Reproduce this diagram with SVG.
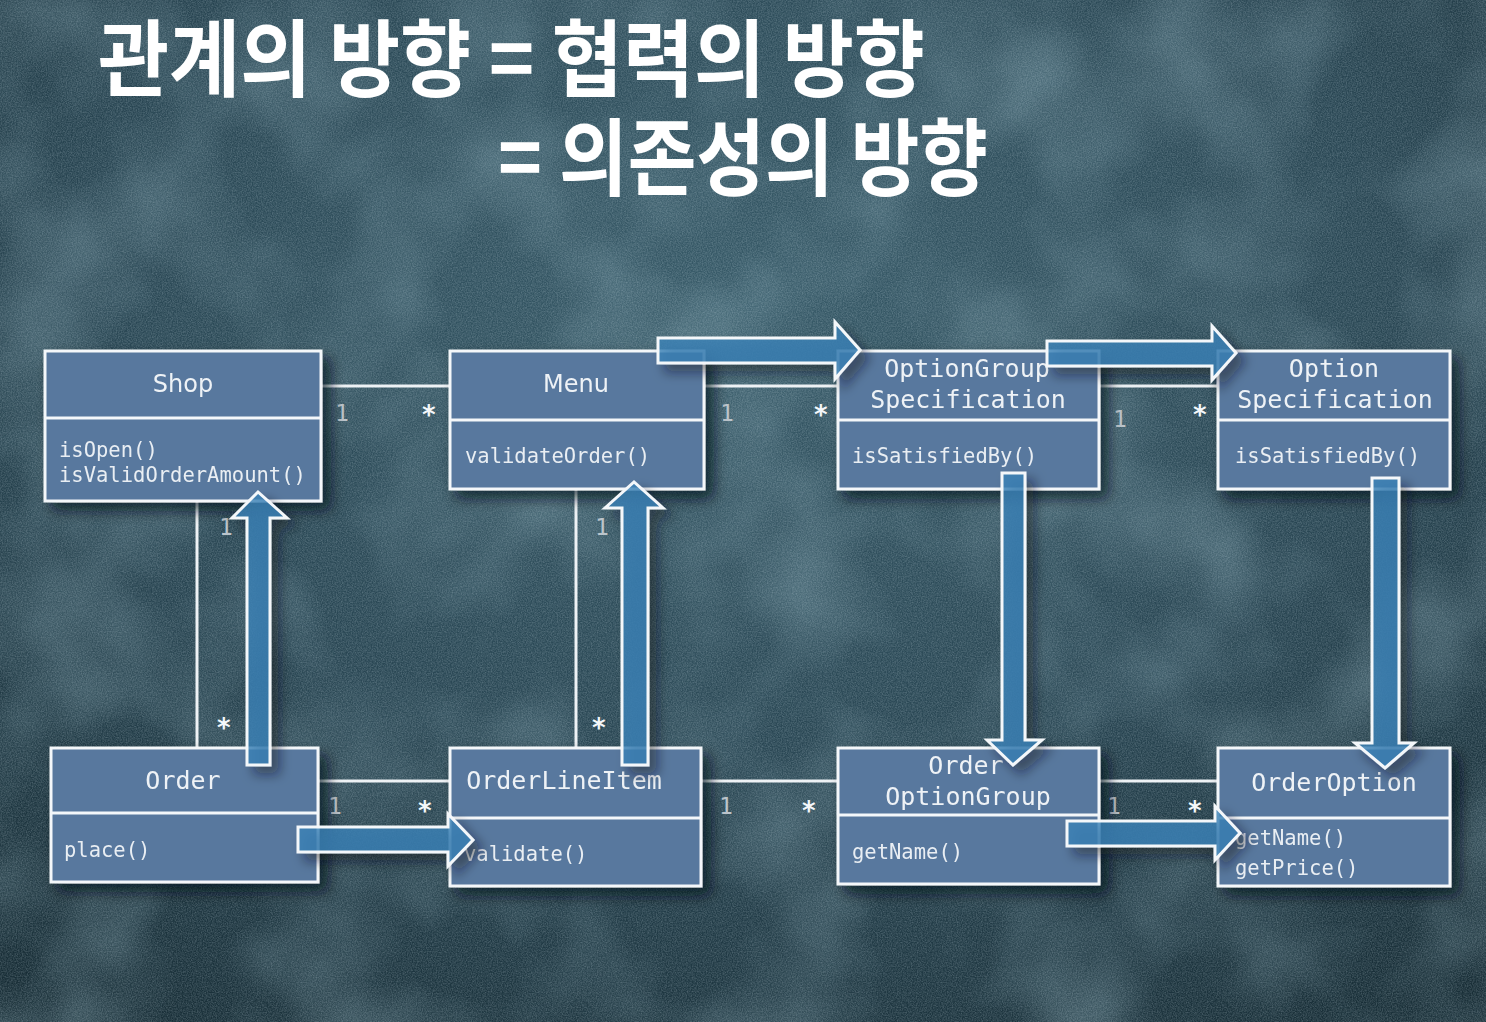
<svg xmlns="http://www.w3.org/2000/svg" width="1486" height="1022" viewBox="0 0 1486 1022">
<defs>
<radialGradient id="bg" cx="0.5" cy="0.3" r="0.9">
<stop offset="0" stop-color="#385b69"/>
<stop offset="0.5" stop-color="#294653"/>
<stop offset="1" stop-color="#142830"/>
</radialGradient>
<filter id="noise" x="0" y="0" width="100%" height="100%">
<feTurbulence type="fractalNoise" baseFrequency="0.8" numOctaves="2" seed="3"/>
<feColorMatrix type="matrix" values="0 0 0 0 0.7  0 0 0 0 0.82  0 0 0 0 0.88  0.4 0 0 0 -0.12"/>
</filter>
<filter id="blotch" x="0" y="0" width="100%" height="100%">
<feTurbulence type="fractalNoise" baseFrequency="0.007" numOctaves="3" seed="7"/>
<feColorMatrix type="matrix" values="0 0 0 0 0.3  0 0 0 0 0.47  0 0 0 0 0.54  0.7 0 0 0 -0.28"/>
</filter>
<filter id="shadow" x="-20%" y="-20%" width="150%" height="150%">
<feDropShadow dx="8" dy="8" stdDeviation="7" flood-color="#06141b" flood-opacity="0.7"/>
</filter>
<filter id="ashadow" x="-30%" y="-30%" width="170%" height="170%">
<feDropShadow dx="8" dy="8" stdDeviation="6" flood-color="#08161d" flood-opacity="0.55"/>
</filter>
<style>
.box{fill:#58789e;stroke:#f4f7fa;stroke-width:3}
.div{stroke:#f4f7fa;stroke-width:3}
.pname{font-family:"DejaVu Sans",sans-serif;font-size:24px;fill:#eef2f6;text-anchor:middle}
.mname{font-family:"DejaVu Sans Mono",monospace;font-size:25px;fill:#eef2f6;text-anchor:middle}
.meth{font-family:"DejaVu Sans Mono",monospace;font-size:20.5px;fill:#e9eef3}
.line{stroke:#eef2f5;stroke-width:3;fill:none}
.one{font-family:"DejaVu Sans Mono",monospace;font-size:23px;fill:#bcc5cc}
.star{font-family:"DejaVu Sans Mono",monospace;font-size:26px;font-weight:bold;fill:#f4f7fa}
.arrow{fill:#3b82b8;fill-opacity:0.8;stroke:#f4f7fa;stroke-width:3;stroke-linejoin:miter}
.title{font-family:"Noto Sans CJK KR","Noto Sans",sans-serif;font-weight:700;font-size:84px;fill:#ffffff}
</style>
</defs>

<rect x="0" y="0" width="1486" height="1022" fill="url(#bg)"/>
<rect x="0" y="0" width="1486" height="1022" filter="url(#blotch)"/>
<rect x="0" y="0" width="1486" height="1022" filter="url(#noise)"/>

<g id="title">
<text class="title" x="98" y="90" textLength="827" lengthAdjust="spacingAndGlyphs">관계의 방향 = 협력의 방향</text>
<text class="title" x="498" y="189" textLength="490" lengthAdjust="spacingAndGlyphs">= 의존성의 방향</text>
</g>

<g id="connectors">
<line class="line" x1="321" y1="386" x2="450" y2="386"/>
<line class="line" x1="704" y1="386" x2="838" y2="386"/>
<line class="line" x1="1099" y1="386" x2="1218" y2="386"/>
<line class="line" x1="197" y1="501" x2="197" y2="748"/>
<line class="line" x1="576" y1="489" x2="576" y2="748"/>
<line class="line" x1="318" y1="781" x2="450" y2="781"/>
<line class="line" x1="701" y1="781" x2="838" y2="781"/>
<line class="line" x1="1099" y1="781" x2="1218" y2="781"/>
<text class="one" x="335" y="421">1</text>
<text class="star" x="421" y="424">*</text>
<text class="one" x="720" y="421">1</text>
<text class="star" x="813" y="424">*</text>
<text class="one" x="1113" y="427">1</text>
<text class="star" x="1192" y="424">*</text>
<text class="one" x="219" y="535">1</text>
<text class="star" x="216" y="737">*</text>
<text class="one" x="595" y="535">1</text>
<text class="star" x="591" y="737">*</text>
<text class="one" x="328" y="814">1</text>
<text class="star" x="417" y="820">*</text>
<text class="one" x="719" y="814">1</text>
<text class="star" x="801" y="820">*</text>
<text class="one" x="1107" y="814">1</text>
<text class="star" x="1187" y="820">*</text>
</g>

<g id="Shop" filter="url(#shadow)">
<rect class="box" x="45" y="351" width="276" height="150"/>
<line class="div" x1="45" y1="418" x2="321" y2="418"/>
<text class="pname" x="183" y="392">Shop</text>
<text class="meth" x="59" y="457">isOpen()</text>
<text class="meth" x="59" y="482">isValidOrderAmount()</text>
</g>

<g id="Menu" filter="url(#shadow)">
<rect class="box" x="450" y="351" width="254" height="138"/>
<line class="div" x1="450" y1="420" x2="704" y2="420"/>
<text class="pname" x="576" y="392" font-size="23">Menu</text>
<text class="meth" x="465" y="463">validateOrder()</text>
</g>

<g id="OptionGroupSpecification" filter="url(#shadow)">
<rect class="box" x="838" y="351" width="261" height="138"/>
<line class="div" x1="838" y1="420" x2="1099" y2="420"/>
<text class="mname" x="967" y="377">OptionGroup</text>
<text class="mname" x="968" y="408">Specification</text>
<text class="meth" x="852" y="463">isSatisfiedBy()</text>
</g>

<g id="OptionSpecification" filter="url(#shadow)">
<rect class="box" x="1218" y="351" width="232" height="138"/>
<line class="div" x1="1218" y1="420" x2="1450" y2="420"/>
<text class="mname" x="1334" y="377">Option</text>
<text class="mname" x="1335" y="408">Specification</text>
<text class="meth" x="1235" y="463">isSatisfiedBy()</text>
</g>

<g id="Order" filter="url(#shadow)">
<rect class="box" x="51" y="748" width="267" height="134"/>
<line class="div" x1="51" y1="813" x2="318" y2="813"/>
<text class="mname" x="183" y="789">Order</text>
<text class="meth" x="64" y="857">place()</text>
</g>

<g id="OrderLineItem" filter="url(#shadow)">
<rect class="box" x="450" y="748" width="251" height="138"/>
<line class="div" x1="450" y1="818" x2="701" y2="818"/>
<text class="mname" x="564" y="789">OrderLineItem</text>
<text class="meth" x="464" y="861">validate()</text>
</g>

<g id="OrderOptionGroup" filter="url(#shadow)">
<rect class="box" x="838" y="748" width="261" height="136"/>
<line class="div" x1="838" y1="815" x2="1099" y2="815"/>
<text class="mname" x="966" y="774">Order</text>
<text class="mname" x="968" y="805">OptionGroup</text>
<text class="meth" x="852" y="859">getName()</text>
</g>

<g id="OrderOption" filter="url(#shadow)">
<rect class="box" x="1218" y="748" width="232" height="138"/>
<line class="div" x1="1218" y1="818" x2="1450" y2="818"/>
<text class="mname" x="1334" y="791">OrderOption</text>
<text class="meth" x="1235" y="845">getName()</text>
<text class="meth" x="1235" y="875">getPrice()</text>
</g>

<g id="dependency-arrows" filter="url(#ashadow)">
<path class="arrow" d="M247,765 L247,518 L232,518 L258,492 L287,518 L270,518 L270,765 Z"/>
<path class="arrow" d="M622,765 L622,508 L605,508 L634,482 L663,508 L648,508 L648,765 Z"/>
<path class="arrow" d="M1002,473 L1025,473 L1025,740 L1042,740 L1013,765 L987,740 L1002,740 Z"/>
<path class="arrow" d="M1372,478 L1399,478 L1399,743 L1414,743 L1385,768 L1355,743 L1372,743 Z"/>
<path class="arrow" d="M658,338 L835,338 L835,322 L860,350 L835,379 L835,363 L658,363 Z"/>
<path class="arrow" d="M1047,341 L1212,341 L1212,326 L1236,353 L1212,380 L1212,366 L1047,366 Z"/>
<path class="arrow" d="M298,827 L448,827 L448,814 L473,840 L448,866 L448,852 L298,852 Z"/>
<path class="arrow" d="M1067,821 L1215,821 L1215,806 L1240,833 L1215,860 L1215,846 L1067,846 Z"/>
</g>
</svg>
